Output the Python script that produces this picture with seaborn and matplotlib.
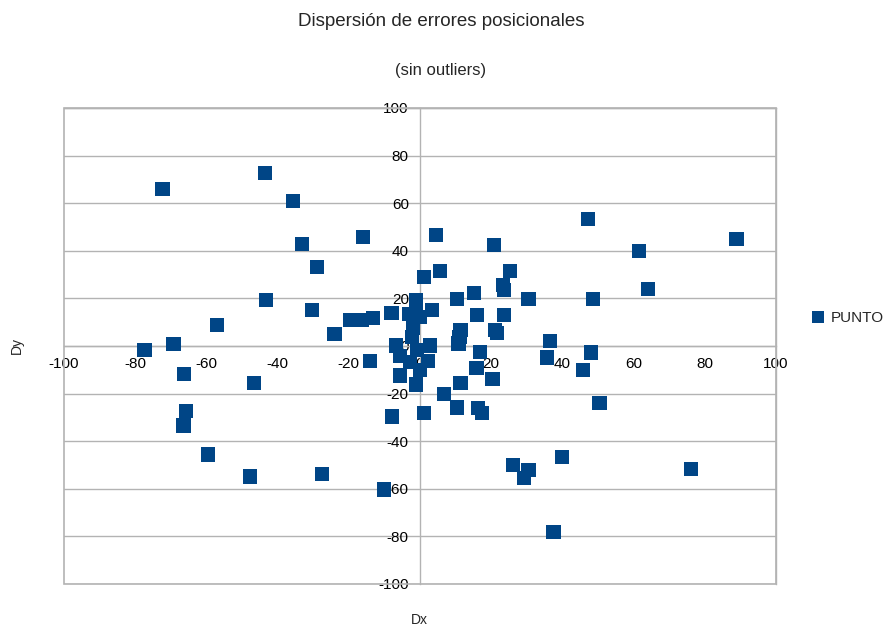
"""
Dispersion of positional errors (Dx, Dy) without outliers.
"""
import matplotlib
matplotlib.use('Agg')
import matplotlib.pyplot as plt
from matplotlib.patches import Rectangle
import pandas as pd
import seaborn as sns

# error components
dx = [-72.3, -43.6, -35.7, -33.2, -29.0, -43.3, -30.4, -57.1, -77.4, -69.2,
      -66.2, -46.7, -65.8, -66.4, -59.5, -47.8, -27.6, -10.1, -24.0, -19.7,
      -16.4, -13.3, -16.1, -14.0, -7.8, -8.0, 4.5, 20.8, 1.1, 5.6,
      25.3, 23.4, 23.6, 15.2, 10.3, 30.5, -1.1, -1.1, 3.3, -3.0,
      0.0, 16.1, 23.6, -1.9, -2.3, 11.4, 21.1, 21.6, 11.1, 10.8,
      -6.7, 2.8, -0.9, 16.9, -5.6, 2.3, -2.8, 15.9, 0.0, -5.7,
      20.4, 11.4, -1.1, 6.8, 1.1, 10.5, 16.4, 17.4, 47.1, 88.9,
      61.5, 64.0, 48.6, 36.6, 48.0, 35.6, 45.7, 50.4, 40.0, 26.2,
      30.5, 29.3, 76.2, 37.5]
dy = [66.0, 72.7, 60.9, 42.9, 33.2, 19.3, 15.1, 8.8, -1.7, 0.8,
      -11.8, -15.6, -27.3, -33.4, -45.6, -54.8, -53.9, -60.3, 4.9, 10.9,
      10.9, 11.6, 45.9, -6.4, -29.6, 14.0, 46.5, 42.3, 29.1, 31.4,
      31.4, 25.6, 23.5, 22.1, 19.7, 19.7, 19.3, 15.8, 15.1, 13.5,
      12.3, 13.0, 13.0, 7.4, 3.9, 6.7, 6.7, 5.3, 3.9, 1.0,
      0.2, 0.2, -1.7, -2.4, -4.2, -6.2, -6.6, -9.1, -10.0, -12.4,
      -14.0, -15.7, -16.2, -20.2, -28.3, -25.8, -26.2, -28.3, 53.2, 45.1,
      39.8, 24.1, 19.7, 2.0, -2.7, -4.8, -10.1, -24.1, -46.5, -50.0,
      -52.1, -55.6, -51.8, -78.3]
series = ['PUNTO'] * len(dx)
ticks = list(range(-100, 101, 20))

sns.set_style('white')
plt.rcParams['font.family'] = ['Liberation Sans', 'DejaVu Sans']
plt.rcParams['axes.unicode_minus'] = False

df = pd.DataFrame({'Dx': dx, 'Dy': dy, 'serie': series})

fig = plt.figure(figsize=(8.86, 6.31), dpi=100)
ax = fig.add_axes([0.0722, 0.0745, 0.8036, 0.7544])

grey = '#b3b3b3'
sns.scatterplot(data=df, x='Dx', y='Dy', hue='serie', palette=['#004586'],
                marker='s', s=105, linewidth=0, ax=ax, zorder=3)

ax.set_xlim(-100, 100)
ax.set_ylim(-100, 100)
ax.set_xticks(ticks)
ax.set_yticks(ticks)
ax.yaxis.grid(True, color=grey, linewidth=1)
ax.xaxis.grid(False)
ax.set_axisbelow(True)

# axes cross at the origin
ax.spines['left'].set_position(('data', 0))
ax.spines['bottom'].set_position(('data', 0))
for side in ['left', 'bottom', 'top', 'right']:
    ax.spines[side].set_color(grey)
    ax.spines[side].set_linewidth(1)
ax.add_patch(Rectangle((0, 0), 1, 1, transform=ax.transAxes, fill=False,
                       edgecolor=grey, linewidth=1.2, zorder=1,
                       clip_on=False))
ax.tick_params(axis='both', which='major', labelsize=11, colors='black',
               length=5, width=1, direction='out', pad=3)
ax.tick_params(axis='both', color=grey)

ax.set_xlabel('')
ax.set_ylabel('')
fig.text(0.4729, 0.017, 'Dx', ha='center', va='center', fontsize=10)
fig.text(0.019, 0.4517, 'Dy', ha='center', va='center', fontsize=10,
         rotation=90)

fig.text(0.4977, 0.966, 'Dispersión de errores posicionales', ha='center',
         va='center', fontsize=13.5)
fig.text(0.4977, 0.889, '(sin outliers)', ha='center', va='center',
         fontsize=12)

ax.legend(loc='center left', bbox_to_anchor=(1.040, 0.559), frameon=False,
          fontsize=11, handlelength=1, handletextpad=0.3, markerscale=0.8,
          borderaxespad=0)

fig.savefig('out.png', dpi=100)
